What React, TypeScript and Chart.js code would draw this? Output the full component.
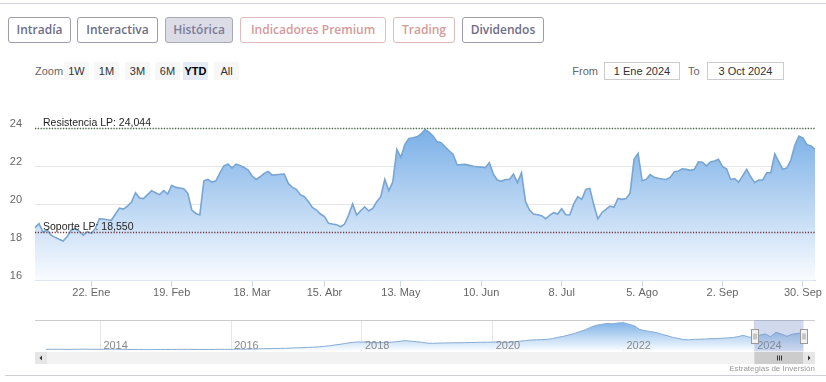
import React, { useEffect, useRef } from 'react';
import { Chart, registerables } from 'chart.js';

Chart.register(...registerables);

const FONT_NARROW = '"Liberation Sans Narrow", "Liberation Sans", Arial, sans-serif';
const FONT_SANS = '"Liberation Sans", Arial, sans-serif';

// ---------- data: main chart (YTD 2024, trading days) ----------
const rangeFrom = '2024-01-02';
const rangeTo = '2024-10-03';
const marketHolidays = ['2024-03-29', '2024-04-01', '2024-05-01'];

function buildTradingDays(from: string, to: string): string[] {
  const out: string[] = [];
  const d = new Date(from + 'T00:00:00Z');
  const end = new Date(to + 'T00:00:00Z');
  while (d <= end) {
    const wd = d.getUTCDay();
    const iso = d.toISOString().slice(0, 10);
    if (wd !== 0 && wd !== 6 && !marketHolidays.includes(iso)) out.push(iso);
    d.setUTCDate(d.getUTCDate() + 1);
  }
  return out;
}
const categories = buildTradingDays(rangeFrom, rangeTo);

const prices = [
  18.79, 19.0, 18.56, 18.67, 18.4, 18.28, 18.18, 18.09, 18.32, 18.67,
  18.74, 18.61, 18.4, 18.58, 18.49, 18.75, 19.26, 19.25, 19.21, 19.18,
  19.51, 19.82, 19.77, 19.93, 20.14, 20.63, 20.35, 20.32, 20.53, 20.74,
  20.63, 20.53, 20.74, 20.56, 21.02, 20.91, 20.88, 20.84, 20.6, 19.72,
  19.54, 19.46, 21.26, 21.33, 21.19, 21.26, 21.68, 22.04, 22.14, 21.93,
  22.14, 22.07, 21.96, 21.82, 21.51, 21.33, 21.47, 21.65, 21.75, 21.56,
  21.58, 21.6, 21.61, 21.12, 20.91, 20.81, 20.53, 20.42, 20.16, 19.86,
  19.72, 19.51, 19.37, 19.02, 18.98, 18.95, 18.84, 18.98, 19.46, 20.04,
  19.46, 19.68, 19.89, 19.67, 19.81, 20.16, 20.42, 21.33, 20.74, 21.21,
  22.91, 22.49, 23.17, 23.48, 23.52, 23.57, 23.72, 23.96, 23.82, 23.61,
  23.32, 23.26, 23.05, 22.84, 22.65, 22.09, 22.11, 22.12, 22.07, 22.02,
  22.0, 21.98, 21.95, 22.21, 21.61, 21.3, 21.23, 21.33, 21.33, 21.61,
  21.16, 21.68, 20.16, 19.72, 19.51, 19.47, 19.42, 19.26, 19.44, 19.58,
  19.51, 19.79, 19.47, 19.46, 20.04, 20.42, 20.28, 20.81, 20.86, 19.98,
  19.25, 19.58, 19.75, 19.93, 19.86, 20.33, 20.28, 20.32, 20.6, 22.39,
  22.7, 21.26, 21.33, 21.58, 21.44, 21.39, 21.35, 21.33, 21.44, 21.74,
  21.77, 21.89, 21.86, 21.81, 21.86, 22.26, 22.23, 22.04, 22.25, 22.3,
  22.39, 22.0, 21.89, 21.33, 21.37, 21.19, 21.51, 21.86, 21.47, 21.16,
  21.3, 21.3, 21.68, 21.68, 22.67, 22.26, 21.86, 21.93, 22.35, 23.14,
  23.61, 23.51, 23.16, 23.09, 22.91,
];

const xTickDates = ['2024-01-22', '2024-02-19', '2024-03-18', '2024-04-15', '2024-05-13', '2024-06-10', '2024-07-08', '2024-08-05', '2024-09-02', '2024-09-30'];
const xTickLabels = ['22. Ene', '19. Feb', '18. Mar', '15. Abr', '13. May', '10. Jun', '8. Jul', '5. Ago', '2. Sep', '30. Sep'];
const yTicks = [16, 18, 20, 22, 24];
const yMin = 16;
const yMax = 25;

const resistanceValue = 24.044;
const resistanceLabel = 'Resistencia LP: 24,044';
const supportValue = 18.55;
const supportLabel = 'Soporte LP: 18,550';

// ---------- data: navigator (monthly, 2013-03 .. 2024-10) ----------
const navStartYear = 2013;
const navStartMonth = 3;
const navValues = [
  // 2013 Mar-Dec
  8.6, 8.5, 8.6, 8.5, 8.4, 8.5, 8.6, 8.7, 8.6, 8.5,
  // 2014
  8.5, 8.6, 8.7, 8.6, 8.5, 8.4, 8.3, 8.3, 8.2, 8.2, 8.3, 8.3,
  // 2015
  8.3, 8.4, 8.4, 8.5, 8.5, 8.4, 8.4, 8.3, 8.3, 8.4, 8.5, 8.5,
  // 2016
  8.5, 8.6, 8.6, 8.7, 8.8, 8.9, 9.0, 9.1, 9.2, 9.3, 9.4, 9.6,
  // 2017
  9.8, 9.9, 10.1, 10.3, 10.6, 11.0, 11.5, 12.2, 12.8, 13.5, 14.3, 14.7,
  // 2018
  14.7, 14.8, 14.4, 14.1, 14.3, 14.5, 14.8, 15.4, 15.9, 15.4, 15.0, 14.5,
  // 2019
  13.8, 13.6, 13.8, 13.9, 14.0, 14.1, 14.1, 14.2, 14.3, 14.4, 14.5, 14.6,
  // 2020
  14.7, 14.9, 14.4, 14.6, 15.0, 15.4, 15.9, 16.4, 16.6, 16.8, 17.0, 17.6,
  // 2021
  18.8, 19.6, 20.8, 22.0, 23.6, 25.2, 27.4, 29.0, 29.8, 30.6, 30.2, 31.0,
  // 2022
  31.2, 29.9, 28.5, 25.4, 24.4, 23.6, 22.8, 21.4, 20.2, 18.8, 17.8, 16.8,
  // 2023
  16.6, 17.0, 17.1, 17.3, 17.5, 17.6, 17.9, 18.2, 18.5, 19.3, 20.4, 19.0,
  // 2024 Jan-Oct
  18.6, 20.5, 21.6, 19.2, 23.0, 21.5, 19.6, 21.4, 22.0, 22.9,
];
const navYearTicks = [2014, 2016, 2018, 2020, 2022, 2024];
const navXMin = 2013.0;
const navXMax = 2024.93;
const navYMin = 7.5;
const navYMax = 33.5;

const topTabs = ['Intradía', 'Interactiva', 'Histórica', 'Indicadores Premium', 'Trading', 'Dividendos'];
const rangeButtons = ['1W', '1M', '3M', '6M', 'YTD', 'All'];
const selectedRange = 'YTD';
const fromLabel = '1 Ene 2024';
const toLabel = '3 Oct 2024';
const creditsText = 'Estrategias de Inversión';

function dateToYear(iso: string): number {
  const d = new Date(iso + 'T00:00:00Z');
  const y = d.getUTCFullYear();
  const start = Date.UTC(y, 0, 1);
  const next = Date.UTC(y + 1, 0, 1);
  return y + (d.getTime() - start) / (next - start);
}

const navPoints = navValues.map((v, i) => {
  const m = navStartMonth - 1 + i;
  return { x: navStartYear + m / 12, y: v };
});

function areaGradient(chart: any, top: string, bottom: string) {
  const { ctx, chartArea } = chart;
  if (!chartArea) return top;
  const g = ctx.createLinearGradient(0, chartArea.top, 0, chartArea.bottom);
  g.addColorStop(0, top);
  g.addColorStop(1, bottom);
  return g;
}

const plotLinesPlugin = {
  id: 'plotLines',
  afterDatasetsDraw(chart: any) {
    const { ctx, chartArea, scales } = chart;
    const y = scales.y;
    const lines = [
      { value: resistanceValue, label: resistanceLabel, color: '#4a6a4c' },
      { value: supportValue, label: supportLabel, color: '#6e3440' },
    ];
    lines.forEach((pl) => {
      const py = Math.round(y.getPixelForValue(pl.value)) + 0.5;
      ctx.save();
      ctx.strokeStyle = pl.color;
      ctx.lineWidth = 1.4;
      ctx.setLineDash([1.2, 1.6]);
      ctx.beginPath();
      ctx.moveTo(chartArea.left, py);
      ctx.lineTo(chartArea.right, py);
      ctx.stroke();
      ctx.setLineDash([]);
      ctx.fillStyle = '#1e1e1e';
      ctx.font = '10.5px ' + FONT_SANS;
      ctx.textBaseline = 'alphabetic';
      ctx.textAlign = 'left';
      ctx.fillText(pl.label, chartArea.left + 8, py - 3);
      ctx.restore();
    });
  },
};

const navPlugin = {
  id: 'navDecor',
  afterDatasetsDraw(chart: any) {
    const { ctx, chartArea, scales } = chart;
    const x = scales.x;
    const left = chartArea.left;
    const right = chartArea.right;
    const top = chartArea.top;
    const bottom = chartArea.bottom;
    ctx.save();
    // year labels
    ctx.fillStyle = '#8a8a8a';
    ctx.font = '11px ' + FONT_NARROW;
    ctx.textBaseline = 'middle';
    ctx.textAlign = 'left';
    navYearTicks.forEach((yr) => {
      ctx.fillText(String(yr), x.getPixelForValue(yr) + 3, bottom - 5);
    });
    // outline top
    ctx.strokeStyle = '#cccccc';
    ctx.lineWidth = 1;
    ctx.beginPath();
    ctx.moveTo(left, Math.round(top) + 0.5);
    ctx.lineTo(right, Math.round(top) + 0.5);
    ctx.stroke();
    // mask
    const mL = x.getPixelForValue(dateToYear(rangeFrom));
    const mR = x.getPixelForValue(dateToYear(rangeTo));
    ctx.fillStyle = 'rgba(102,133,194,0.3)';
    ctx.fillRect(mL, top, mR - mL, bottom - top + 1);
    // scrollbar
    const sTop = bottom + 1.5;
    const sH = 12;
    ctx.fillStyle = '#f2f2f2';
    ctx.fillRect(left, sTop, right - left, sH);
    ctx.fillStyle = '#e6e6e6';
    ctx.fillRect(left, sTop, 12, sH);
    ctx.fillRect(right - 12, sTop, 12, sH);
    ctx.fillStyle = '#cccccc';
    ctx.fillRect(mL, sTop, Math.min(mR, right - 12) - mL, sH);
    // grip
    ctx.strokeStyle = '#333333';
    ctx.lineWidth = 1;
    const gc = Math.round((mL + Math.min(mR, right - 12)) / 2);
    [-2, 0, 2].forEach((o) => {
      ctx.beginPath();
      ctx.moveTo(gc + o + 0.5, sTop + 3.5);
      ctx.lineTo(gc + o + 0.5, sTop + sH - 3.5);
      ctx.stroke();
    });
    // arrows
    ctx.fillStyle = '#333333';
    const cy = sTop + sH / 2;
    ctx.beginPath();
    ctx.moveTo(left + 4.5, cy);
    ctx.lineTo(left + 7, cy - 2.5);
    ctx.lineTo(left + 7, cy + 2.5);
    ctx.closePath();
    ctx.fill();
    ctx.beginPath();
    ctx.moveTo(right - 4.5, cy);
    ctx.lineTo(right - 7, cy - 2.5);
    ctx.lineTo(right - 7, cy + 2.5);
    ctx.closePath();
    ctx.fill();
    // handles
    [mL, mR].forEach((hx) => {
      const hxL = Math.round(hx - 3.5) + 0.5;
      const hy = Math.round(top + 9) + 0.5;
      ctx.fillStyle = '#f2f2f2';
      ctx.strokeStyle = '#999999';
      ctx.fillRect(hxL, hy, 7, 14);
      ctx.strokeRect(hxL, hy, 7, 14);
      ctx.beginPath();
      ctx.moveTo(hxL + 2.5, hy + 4);
      ctx.lineTo(hxL + 2.5, hy + 10);
      ctx.moveTo(hxL + 4.5, hy + 4);
      ctx.lineTo(hxL + 4.5, hy + 10);
      ctx.stroke();
    });
    ctx.restore();
  },
};

export default function App() {
  const mainRef = useRef<HTMLCanvasElement | null>(null);
  const navRef = useRef<HTMLCanvasElement | null>(null);

  useEffect(() => {
    const mainCanvas = mainRef.current!;
    const navCanvas = navRef.current!;
    const tickFont = { family: FONT_NARROW, size: 11 };

    const main = new Chart(mainCanvas, {
      type: 'line',
      data: {
        labels: categories,
        datasets: [
          {
            data: prices,
            borderColor: '#78a5d2',
            borderWidth: 1.6,
            pointRadius: 0,
            tension: 0,
            fill: 'start',
            backgroundColor: (c: any) => areaGradient(c.chart, 'rgb(105,166,228)', 'rgb(250,252,255)'),
          },
        ],
      },
      options: {
        animation: false,
        responsive: false,
        maintainAspectRatio: false,
        events: [],
        layout: { padding: { top: 9.7, right: 11, bottom: 0, left: 0 } },
        plugins: { legend: { display: false }, tooltip: { enabled: false } },
        scales: {
          x: {
            type: 'category',
            offset: false,
            grid: { drawOnChartArea: false, drawTicks: true, tickLength: 6, color: '#ccd6eb' },
            border: { display: true, color: '#ccd6eb' },
            ticks: {
              autoSkip: false,
              maxRotation: 0,
              minRotation: 0,
              padding: 0,
              color: '#666666',
              font: tickFont,
              callback: (v: any) => {
                const k = xTickDates.indexOf(categories[v as number]);
                return k >= 0 ? xTickLabels[k] : '';
              },
            },
            afterBuildTicks: (s: any) => {
              s.ticks = xTickDates.map((d) => ({ value: categories.indexOf(d) }));
            },
            afterFit: (s: any) => {
              s.height = 29.3;
              s.paddingLeft = 0;
              s.paddingRight = 0;
            },
          },
          y: {
            min: yMin,
            max: yMax,
            grid: { color: '#e6e6e6', drawTicks: false },
            border: { display: false },
            ticks: { padding: 13, labelOffset: -5, color: '#666666', font: tickFont },
            afterBuildTicks: (s: any) => {
              s.ticks = yTicks.map((v) => ({ value: v }));
            },
            afterFit: (s: any) => {
              s.width = 35;
              s.paddingTop = 0;
              s.paddingBottom = 0;
            },
          },
        },
      } as any,
      plugins: [plotLinesPlugin],
    });

    const nav = new Chart(navCanvas, {
      type: 'line',
      data: {
        datasets: [
          {
            data: navPoints,
            borderColor: '#86acd4',
            borderWidth: 1,
            pointRadius: 0,
            tension: 0,
            fill: 'start',
            backgroundColor: (c: any) => areaGradient(c.chart, 'rgb(118,173,230)', 'rgb(248,251,255)'),
          },
        ],
      },
      options: {
        animation: false,
        responsive: false,
        maintainAspectRatio: false,
        events: [],
        layout: { padding: { top: 6, right: 11, bottom: 17.5, left: 35 } },
        plugins: { legend: { display: false }, tooltip: { enabled: false } },
        scales: {
          x: {
            type: 'linear',
            min: navXMin,
            max: navXMax,
            grid: { color: '#e6e6e6', drawTicks: false },
            border: { display: false },
            ticks: { display: false },
            afterBuildTicks: (s: any) => {
              s.ticks = navYearTicks.map((v) => ({ value: v }));
            },
            afterFit: (s: any) => {
              s.height = 0;
              s.paddingLeft = 0;
              s.paddingRight = 0;
            },
          },
          y: { display: false, min: navYMin, max: navYMax },
        },
      } as any,
      plugins: [navPlugin],
    });

    return () => {
      main.destroy();
      nav.destroy();
    };
  }, []);

  const tabPos = [
    [8, 63],
    [77, 81],
    [165, 68],
    [240, 146],
    [393, 62],
    [462, 82],
  ];
  const rangeLefts = [64, 94, 125, 155, 183, 214];

  return (
    <div style={{ position: 'absolute', left: 0, top: 0, width: 826, height: 382, overflow: 'hidden', background: '#fff', fontFamily: FONT_SANS }}>
      <div style={{ position: 'absolute', left: 0, top: 3, width: 826, height: 1, background: '#d2d2da' }} />
      {topTabs.map((t, i) => {
        const premium = t === 'Indicadores Premium' || t === 'Trading';
        const active = t === 'Histórica';
        return (
          <div
            key={t}
            style={{
              position: 'absolute',
              left: tabPos[i][0],
              top: 17,
              width: tabPos[i][1],
              height: 26,
              boxSizing: 'border-box',
              border: '1px solid ' + (premium ? '#dfbcbc' : active ? '#a9a9b8' : '#9c9cab'),
              borderRadius: 3,
              background: active ? '#dcdce6' : '#ffffff',
              color: premium ? '#d39a9a' : active ? '#7b7b98' : '#6d6d88',
              fontFamily: '"Open Sans", "Noto Sans", sans-serif',
              fontWeight: 600,
              fontSize: 12,
              lineHeight: '24px',
              textAlign: 'center',
              whiteSpace: 'nowrap',
            }}
          >
            {t}
          </div>
        );
      })}

      <div style={{ position: 'absolute', left: 35, top: 63, height: 16, lineHeight: '16px', fontSize: 11, fontFamily: FONT_NARROW, color: '#666' }}>Zoom</div>
      {rangeButtons.map((b, i) => {
        const sel = b === selectedRange;
        return (
          <div
            key={b}
            style={{
              position: 'absolute',
              left: rangeLefts[i],
              top: 62,
              width: 25,
              height: 18,
              lineHeight: '18px',
              background: sel ? '#e6ebf5' : '#f7f7f7',
              color: sel ? '#000' : '#333',
              fontWeight: sel ? 700 : 400,
              fontSize: 11,
              fontFamily: FONT_NARROW,
              textAlign: 'center',
            }}
          >
            {b}
          </div>
        );
      })}
      <div style={{ position: 'absolute', left: 560, width: 38, top: 63, lineHeight: '16px', fontSize: 11, fontFamily: FONT_NARROW, color: '#666', textAlign: 'right' }}>From</div>
      <div style={{ position: 'absolute', left: 604, top: 62, width: 76, height: 18, boxSizing: 'border-box', border: '1px solid #cccccc', lineHeight: '16px', fontSize: 11, fontFamily: FONT_NARROW, color: '#333', textAlign: 'center' }}>{fromLabel}</div>
      <div style={{ position: 'absolute', left: 688, top: 63, lineHeight: '16px', fontSize: 11, fontFamily: FONT_NARROW, color: '#666' }}>To</div>
      <div style={{ position: 'absolute', left: 707, top: 62, width: 77, height: 18, boxSizing: 'border-box', border: '1px solid #cccccc', lineHeight: '16px', fontSize: 11, fontFamily: FONT_NARROW, color: '#333', textAlign: 'center' }}>{toLabel}</div>

      <canvas ref={mainRef} width={826} height={210} style={{ position: 'absolute', left: 0, top: 100, width: 826, height: 210 }} />
      <canvas ref={navRef} width={826} height={54} style={{ position: 'absolute', left: 0, top: 314, width: 826, height: 54 }} />

      <div style={{ position: 'absolute', left: 650, width: 165, top: 364, lineHeight: '9px', fontSize: 8, fontFamily: FONT_NARROW, color: '#999', textAlign: 'right' }}>{creditsText}</div>
      <div style={{ position: 'absolute', left: 5, top: 375, width: 821, height: 1, background: '#cfcfd8' }} />
    </div>
  );
}
